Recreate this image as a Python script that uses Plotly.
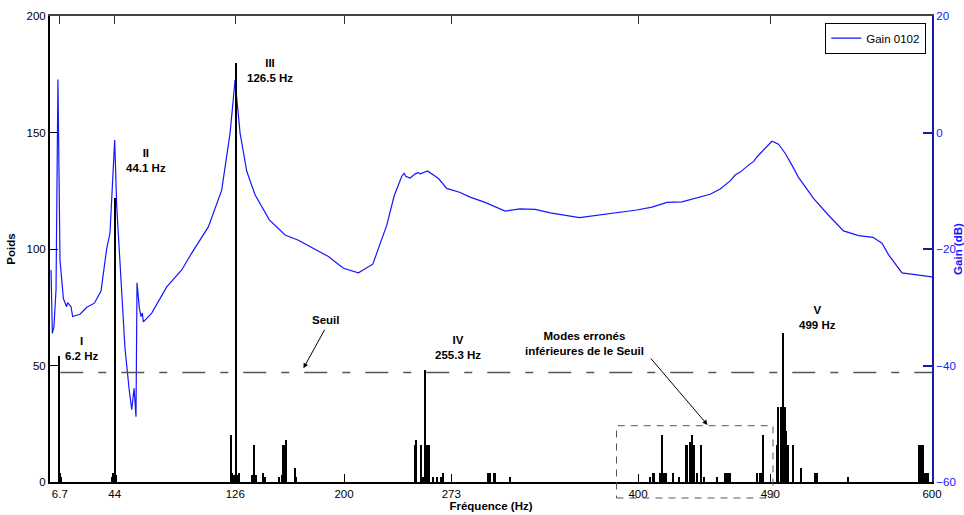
import plotly.graph_objects as go

# ---------------- data ----------------
gain_freq = [0.7, 1.6, 2.7, 4.1, 5.4, 6.8, 9.1, 11.3, 12.0, 14.3, 15.4, 20.4, 25.0, 30.2,
             34.7, 38.6, 40.8, 44.0, 45.4, 47.6, 51.0, 53.8, 55.6, 57.2, 58.5, 59.2, 60.8,
             61.9, 62.8, 63.5, 69.2, 79.4, 89.6, 96.4, 107.7, 116.8, 122.5, 125.9, 129.3,
             133.9, 139.5, 149.2, 159.9, 169.0, 189.4, 199.6, 209.8, 219.6, 229.1, 234.1,
             239.3, 240.9, 242.0, 245.0, 248.4, 250.6, 252.0, 256.8, 264.3, 269.9, 279.0,
             285.8, 296.0, 309.6, 319.8, 330.0, 340.3, 360.2, 381.1, 399.2, 409.5, 419.7,
             429.9, 449.1, 455.9, 462.7, 466.1, 469.5, 475.2, 478.6, 480.9, 485.4, 491.1,
             495.6, 500.2, 504.7, 509.2, 519.4, 529.6, 539.8, 550.1, 559.8, 566.0, 570.5,
             579.6, 600.0]
gain_db = [-23.6, -34.5, -33.3, -27.0, 9.1, -21.9, -28.5, -29.9, -29.2, -29.9, -31.6, -31.2,
           -30.0, -29.3, -27.2, -19.9, -17.3, -1.3, -12.7, -23.0, -37.0, -44.0, -47.6, -43.9,
           -48.8, -25.8, -30.2, -31.6, -31.0, -32.5, -31.0, -26.5, -23.6, -20.7, -16.2, -9.9,
           -0.1, 9.0, -0.1, -6.7, -10.7, -15.0, -17.6, -18.5, -21.3, -23.3, -24.1, -22.6,
           -15.9, -10.9, -7.5, -7.0, -7.5, -7.8, -7.1, -6.9, -7.1, -6.6, -7.9, -9.6, -10.3,
           -11.1, -12.0, -13.5, -13.1, -13.2, -13.8, -14.6, -13.9, -13.3, -12.8, -12.0, -11.9,
           -10.6, -9.7, -8.3, -7.3, -6.8, -5.6, -5.0, -4.2, -3.0, -1.5, -2.0, -3.6, -5.6,
           -7.7, -11.3, -14.2, -16.9, -17.7, -18.0, -19.0, -21.0, -24.1, -24.8]

bar_freq = [6.2, 6.9, 7.6,
            42.5, 43.2, 44.1, 44.8,
            123.0, 124.0, 125.2, 126.5, 127.6, 128.4,
            137.5, 139.0, 140.0, 145.2, 146.6,
            155.8, 157.7, 158.3, 159.0, 159.9, 160.6, 166.7, 167.5,
            248.4, 249.3, 252.2, 253.5, 255.3, 255.9, 256.8, 258.1, 260.8, 263.1, 265.9,
            267.2, 267.7,
            298.3, 299.5, 301.8, 302.7, 313.0,
            408.3, 409.9, 411.1, 415.1, 416.5, 417.4, 419.2, 423.8, 427.6, 432.8, 433.7,
            435.5, 437.1, 438.3, 440.1, 442.8, 445.1, 454.1, 459.3, 460.4, 461.6, 462.7,
            480.9, 482.7, 484.3, 485.0,
            494.6, 495.6, 497.6, 498.3, 499.0, 499.7, 500.5, 501.3, 502.2, 505.8, 510.8,
            520.6, 521.7, 542.6,
            590.9, 591.8, 593.2, 593.9, 595.0, 596.0, 597.3]
bar_poids = [54, 4, 2,
             2, 4, 122, 3,
             20, 4, 3, 180, 3, 4,
             3, 16, 3, 4, 2,
             2, 3, 16, 16, 16, 18, 6, 2,
             16, 18, 16, 2, 48, 16, 16, 16, 2, 2, 2,
             4, 2,
             4, 4, 4, 4, 2,
             2, 4, 4, 4, 20, 4, 4, 4, 2, 16, 16,
             17, 20, 16, 4, 16, 2, 2, 4, 4, 4, 4,
             4, 4, 4, 20,
             16, 32, 32, 22, 64, 32, 22, 16, 16, 16, 6,
             4, 4, 2,
             16, 16, 16, 16, 4, 4, 4]

x_ticks = [6.7, 44, 126, 200, 273, 400, 490, 600]
x_tick_labels = ["6.7", "44", "126", "200", "273", "400", "490", "600"]
poids_ticks = [0, 50, 100, 150, 200]
gain_ticks = [-60, -40, -20, 0, 20]
seuil = 47

mode_freq = [6.2, 44.1, 126.5, 255.3, 499]
mode_names = ["I", "II", "III", "IV", "V"]
mode_labels = ["6.2 Hz", "44.1 Hz", "126.5 Hz", "255.3 Hz", "499 Hz"]
label_x = [21.1, 65.0, 149.5, 277.5, 522.1]
label_y = [57.5, 137.8, 176.5, 57.7, 70.4]

FONT = "Liberation Sans, Arial, sans-serif"
BLUE = "#1515ff"
AXBLUE = "#1a1aa8"

fig = go.Figure()

fig.add_trace(go.Scatter(
    x=gain_freq, y=gain_db, mode="lines", name="Gain 0102",
    line=dict(color=BLUE, width=1.2), yaxis="y", xaxis="x"))

fig.add_trace(go.Bar(
    x=bar_freq, y=bar_poids, width=0.75, marker=dict(color="black", line=dict(width=0)),
    showlegend=False, yaxis="y2", xaxis="x"))

# invisible trace for the top axis
fig.add_trace(go.Scatter(x=[None], y=[None], xaxis="x2", yaxis="y", showlegend=False,
                         hoverinfo="skip"))

# threshold line
fig.add_shape(type="line", xref="x", yref="y2", x0=7, x1=600, y0=seuil, y1=seuil,
              line=dict(color="#555555", width=1.3, dash="23px,15px,8px,15px"))

# dashed rectangle
fig.add_shape(type="rect", xref="paper", yref="paper", x0=0.6423, x1=0.8197,
              y0=-0.0343, y1=0.1208, line=dict(color="#555555", width=1, dash="7px,6px"))

annotations = []
for nm, lab, lx, ly in zip(mode_names, mode_labels, label_x, label_y):
    annotations.append(dict(x=lx, y=ly, xref="x", yref="y2",
                            text="<b>%s</b><br><b>%s</b>" % (nm, lab), showarrow=False,
                            font=dict(family=FONT, size=11.5, color="black"),
                            align="center"))

annotations.append(dict(x=187.1, y=69.5, xref="x", yref="y2", text="<b>Seuil</b>",
                        showarrow=False, font=dict(family=FONT, size=11.5, color="black")))
annotations.append(dict(x=172.4, y=48.8, xref="x", yref="y2", text="", showarrow=True,
                        ax=22, ay=-40, arrowhead=2, arrowsize=1, arrowwidth=1,
                        arrowcolor="black"))
annotations.append(dict(x=363.4, y=59.4, xref="x", yref="y2",
                        text="<b>Modes erronés</b><br><b>inférieures de le Seuil</b>",
                        showarrow=False, font=dict(family=FONT, size=11.5, color="black")))
annotations.append(dict(x=447.3, y=24.5, xref="x", yref="y2", text="", showarrow=True,
                        ax=-58, ay=-68, arrowhead=2, arrowsize=1, arrowwidth=1,
                        arrowcolor="black"))

fig.update_layout(
    width=964, height=515,
    margin=dict(l=50, r=32, t=16, b=33, autoexpand=False),
    paper_bgcolor="white", plot_bgcolor="white",
    font=dict(family=FONT, size=11.5, color="black"),
    barmode="overlay", bargap=0,
    showlegend=True,
    legend=dict(x=0.9935, y=0.9856, xanchor="right", yanchor="top",
                bgcolor="white", bordercolor="black", borderwidth=1,
                font=dict(family=FONT, size=11.5, color="black"),
                itemwidth=30, tracegroupgap=0),
    xaxis=dict(range=[0, 600], tickvals=x_ticks, ticktext=x_tick_labels,
               ticks="inside", ticklen=8, tickcolor="black", tickwidth=1,
               showline=True, linecolor="black", linewidth=2,
               showgrid=False, zeroline=False, automargin=False,
               tickfont=dict(family=FONT, size=11.5, color="black"),
               title=dict(text="<b>Fréquence (Hz)</b>", standoff=2,
                          font=dict(family=FONT, size=11.5, color="black"))),
    xaxis2=dict(range=[0, 600], overlaying="x", side="top", anchor="y",
                tickvals=x_ticks, ticks="inside", ticklen=8, tickcolor="#333333",
                showticklabels=False, showline=True, linecolor="#444444", linewidth=1.5,
                showgrid=False, zeroline=False, automargin=False),
    yaxis=dict(range=[-60, 20], side="right", anchor="x", tickvals=gain_ticks,
               ticks="inside", ticklen=9, tickcolor=AXBLUE, tickwidth=1.5,
               showline=True, linecolor=AXBLUE, linewidth=2,
               showgrid=False, zeroline=False, automargin=False,
               tickfont=dict(family=FONT, size=11.5, color=BLUE),
               title=dict(text="<b>Gain (dB)</b>", standoff=6,
                          font=dict(family=FONT, size=11.5, color=BLUE))),
    yaxis2=dict(range=[0, 200], side="left", overlaying="y", anchor="x",
                tickvals=poids_ticks, ticks="inside", ticklen=8, tickcolor="black",
                showline=True, linecolor="black", linewidth=2,
                showgrid=False, zeroline=False, automargin=False,
                tickfont=dict(family=FONT, size=11.5, color="black"),
                title=dict(text="<b>Poids</b>", standoff=8,
                           font=dict(family=FONT, size=11.5, color="black"))),
    annotations=annotations,
)

fig.write_html("out.html")
